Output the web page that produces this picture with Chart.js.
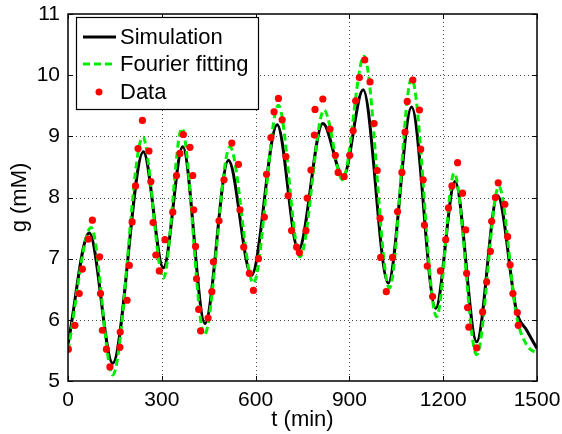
<!DOCTYPE html>
<html>
<head>
<meta charset="utf-8">
<script src="https://cdn.jsdelivr.net/npm/chart.js@4/dist/chart.umd.min.js"></script>
<style>
  html, body { margin: 0; padding: 0; background: #fff; }
  #wrap { width: 562px; height: 434px; }
</style>
</head>
<body>
<div id="wrap"><canvas id="chart1" width="562" height="434"></canvas></div>
<script>
// x ticks / y ticks
const xTicks = [0, 300, 600, 900, 1200, 1500];
const yTicks = [5, 6, 7, 8, 9, 10, 11];

// simulation curve (black), read at peaks / troughs
const simT = [0, 68, 143, 241, 305, 367, 438, 513, 587, 669, 737, 815, 880, 944, 1024, 1099, 1176, 1238, 1307, 1374, 1435, 1467, 1500];
const simG = [5.60, 7.42, 5.29, 8.75, 6.85, 8.83, 5.94, 8.61, 6.73, 9.19, 7.14, 9.21, 8.34, 9.76, 6.60, 9.48, 6.19, 8.26, 5.64, 8.03, 6.13, 5.83, 5.53];

// fourier fit (green dashed)
const fitT = [0, 74, 143, 239, 305, 364, 436, 518, 593, 673, 742, 819, 878, 947, 1028, 1099, 1179, 1235, 1307, 1378, 1435, 1467, 1500];
const fitG = [5.50, 7.51, 5.10, 8.99, 6.68, 9.13, 5.75, 8.83, 6.60, 9.51, 7.03, 9.43, 8.29, 10.31, 6.52, 9.95, 6.05, 8.40, 5.43, 8.18, 6.05, 5.59, 5.45];

// measured data (red dots)
const dataT = [1, 22, 36, 46, 65, 78, 101, 104, 110, 123, 134, 166, 167, 189, 196, 205, 216, 224, 238, 259,
  265, 272, 281, 292, 310, 335, 347, 358, 369, 390, 399, 402, 408, 411, 418, 424, 448, 460, 465, 483,
  499, 524, 545, 550, 562, 580, 593, 609, 628, 635, 649, 659, 673, 685, 697, 704, 715, 731, 740, 761,
  765, 777, 788, 790, 815, 838, 855, 864, 883, 901, 912, 920, 932, 949, 966, 979, 989, 998, 1000, 1018,
  1038, 1054, 1068, 1078, 1085, 1103, 1124, 1128, 1136, 1140, 1149, 1166, 1191, 1208, 1217, 1228, 1246, 1262, 1272, 1275,
  1278, 1282, 1307, 1326, 1339, 1351, 1355, 1367, 1376, 1397, 1406, 1414, 1423, 1437, 1440];
const dataG = [5.52, 5.91, 6.43, 6.83, 7.32, 7.63, 7.03, 6.43, 5.83, 5.52, 5.23, 5.55, 5.80, 6.32, 6.89, 7.60, 8.19, 8.80, 9.26, 8.76,
  8.26, 7.59, 7.06, 6.80, 7.31, 7.76, 8.36, 8.72, 9.03, 8.82, 8.36, 7.80, 7.20, 6.67, 6.17, 5.82, 6.03, 6.46, 6.95, 7.62,
  8.29, 8.89, 8.54, 7.80, 7.19, 6.76, 6.48, 7.00, 7.68, 8.38, 8.98, 9.40, 9.62, 9.27, 8.67, 8.03, 7.46, 7.19, 7.10, 7.46,
  7.99, 8.45, 9.02, 9.44, 9.61, 9.12, 8.69, 8.41, 8.34, 8.69, 9.09, 9.58, 9.96, 10.25, 9.89, 9.21, 8.44, 7.66, 7.02, 6.46,
  7.02, 7.77, 8.41, 9.07, 9.57, 9.92, 9.43, 8.79, 8.29, 7.55, 6.88, 6.38, 6.80, 7.31, 7.83, 8.19, 8.57, 8.07, 7.47, 6.76,
  6.20, 5.88, 5.54, 6.13, 6.62, 7.12, 7.61, 8.00, 8.24, 7.89, 7.36, 6.90, 6.43, 6.12, 5.91];

const FONT = "'Liberation Sans', Arial, Helvetica, sans-serif";

function pts(xs, ys) {
    return xs.map((x, i) => ({x: x, y: ys[i]}));
}

// grid, box, inward ticks and the legend box, matlab style
const matlabAxes = {
    id: 'matlabAxes',
    beforeDatasetsDraw(chart) {
        const {ctx, chartArea: a, scales: {x, y}} = chart;
        ctx.save();
        ctx.strokeStyle = '#444';
        ctx.lineWidth = 1;
        ctx.setLineDash([1, 3]);
        xTicks.slice(1, -1).forEach(v => {
            const px = Math.round(x.getPixelForValue(v)) + 0.5;
            ctx.beginPath(); ctx.moveTo(px, a.top); ctx.lineTo(px, a.bottom); ctx.stroke();
        });
        yTicks.slice(1, -1).forEach(v => {
            const py = Math.round(y.getPixelForValue(v)) + 0.5;
            ctx.beginPath(); ctx.moveTo(a.left, py); ctx.lineTo(a.right, py); ctx.stroke();
        });
        ctx.restore();
    },
    afterDatasetsDraw(chart) {
        const {ctx, chartArea: a, scales: {x, y}} = chart;
        ctx.save();
        ctx.strokeStyle = '#000';
        ctx.lineWidth = 1.5;
        ctx.setLineDash([]);
        ctx.strokeRect(a.left, a.top, a.right - a.left, a.bottom - a.top);
        ctx.lineWidth = 1;
        const tl = 5;
        xTicks.forEach(v => {
            const px = Math.round(x.getPixelForValue(v)) + 0.5;
            ctx.beginPath();
            ctx.moveTo(px, a.bottom); ctx.lineTo(px, a.bottom - tl);
            ctx.moveTo(px, a.top); ctx.lineTo(px, a.top + tl);
            ctx.stroke();
        });
        yTicks.forEach(v => {
            const py = Math.round(y.getPixelForValue(v)) + 0.5;
            ctx.beginPath();
            ctx.moveTo(a.left, py); ctx.lineTo(a.left + tl, py);
            ctx.moveTo(a.right, py); ctx.lineTo(a.right - tl, py);
            ctx.stroke();
        });

        // legend
        const bx = 76, by = 17, bw = 182, bh = 92;
        ctx.fillStyle = '#fff';
        ctx.fillRect(bx, by, bw, bh);
        ctx.strokeStyle = '#000';
        ctx.lineWidth = 1.2;
        ctx.strokeRect(bx + 0.5, by + 0.5, bw, bh);
        const ds = chart.data.datasets;
        const rows = [37, 64, 92];
        ctx.font = '22px ' + FONT;
        ctx.textBaseline = 'middle';
        ctx.textAlign = 'left';
        ds.forEach((d, i) => {
            const yy = rows[i];
            if (d.showLine === false) {
                ctx.fillStyle = d.pointBackgroundColor;
                ctx.beginPath(); ctx.arc(99, yy, 3.5, 0, Math.PI * 2); ctx.fill();
            } else {
                ctx.strokeStyle = d.borderColor;
                ctx.lineWidth = d.borderWidth;
                ctx.setLineDash(d.borderDash || []);
                ctx.beginPath(); ctx.moveTo(83, yy); ctx.lineTo(116, yy); ctx.stroke();
                ctx.setLineDash([]);
            }
            ctx.fillStyle = '#000';
            ctx.fillText(d.label, 120, yy + 1);
        });
        ctx.restore();
    }
};

const config = {
    type: 'line',
    data: {
        datasets: [
            {
                label: 'Simulation',
                data: pts(simT, simG),
                borderColor: '#000000',
                borderWidth: 3,
                pointRadius: 0,
                cubicInterpolationMode: 'monotone',
                order: 3
            },
            {
                label: 'Fourier fitting',
                data: pts(fitT, fitG),
                borderColor: '#00ee00',
                borderWidth: 3,
                borderDash: [7, 4],
                pointRadius: 0,
                cubicInterpolationMode: 'monotone',
                order: 2
            },
            {
                label: 'Data',
                data: pts(dataT, dataG),
                showLine: false,
                pointRadius: 3.6,
                pointBorderWidth: 0,
                pointBackgroundColor: '#ff0000',
                order: 1
            }
        ]
    },
    options: {
        responsive: false,
        animation: false,
        layout: {
            padding: {left: 0, right: 25, top: 14, bottom: 0}
        },
        scales: {
            x: {
                type: 'linear',
                min: 0,
                max: 1500,
                afterBuildTicks: s => { s.ticks = xTicks.map(v => ({value: v})); },
                afterFit: s => { s.height = 53; s.paddingLeft = 0; s.paddingRight = 0; },
                grid: {display: false, drawTicks: false},
                border: {display: false},
                ticks: {color: '#000', font: {size: 21, family: FONT}, padding: 7, maxRotation: 0, autoSkip: false,
                    callback: v => String(v)},
                title: {display: true, text: 't (min)', color: '#000', font: {size: 22, family: FONT}, padding: {top: 0, bottom: 1}}
            },
            y: {
                min: 5,
                max: 11,
                afterBuildTicks: s => { s.ticks = yTicks.map(v => ({value: v})); },
                afterFit: s => { s.width = 68; s.paddingTop = 0; s.paddingBottom = 0; },
                grid: {display: false, drawTicks: false},
                border: {display: false},
                ticks: {color: '#000', font: {size: 21, family: FONT}, padding: 8},
                title: {display: true, text: 'g (mM)', color: '#000', font: {size: 22, family: FONT}, padding: {top: 7, bottom: 0}}
            }
        },
        plugins: {
            legend: {display: false},
            tooltip: {enabled: false}
        }
    },
    plugins: [matlabAxes]
};

var myChart = new Chart(document.getElementById('chart1'), config);
</script>
</body>
</html>
